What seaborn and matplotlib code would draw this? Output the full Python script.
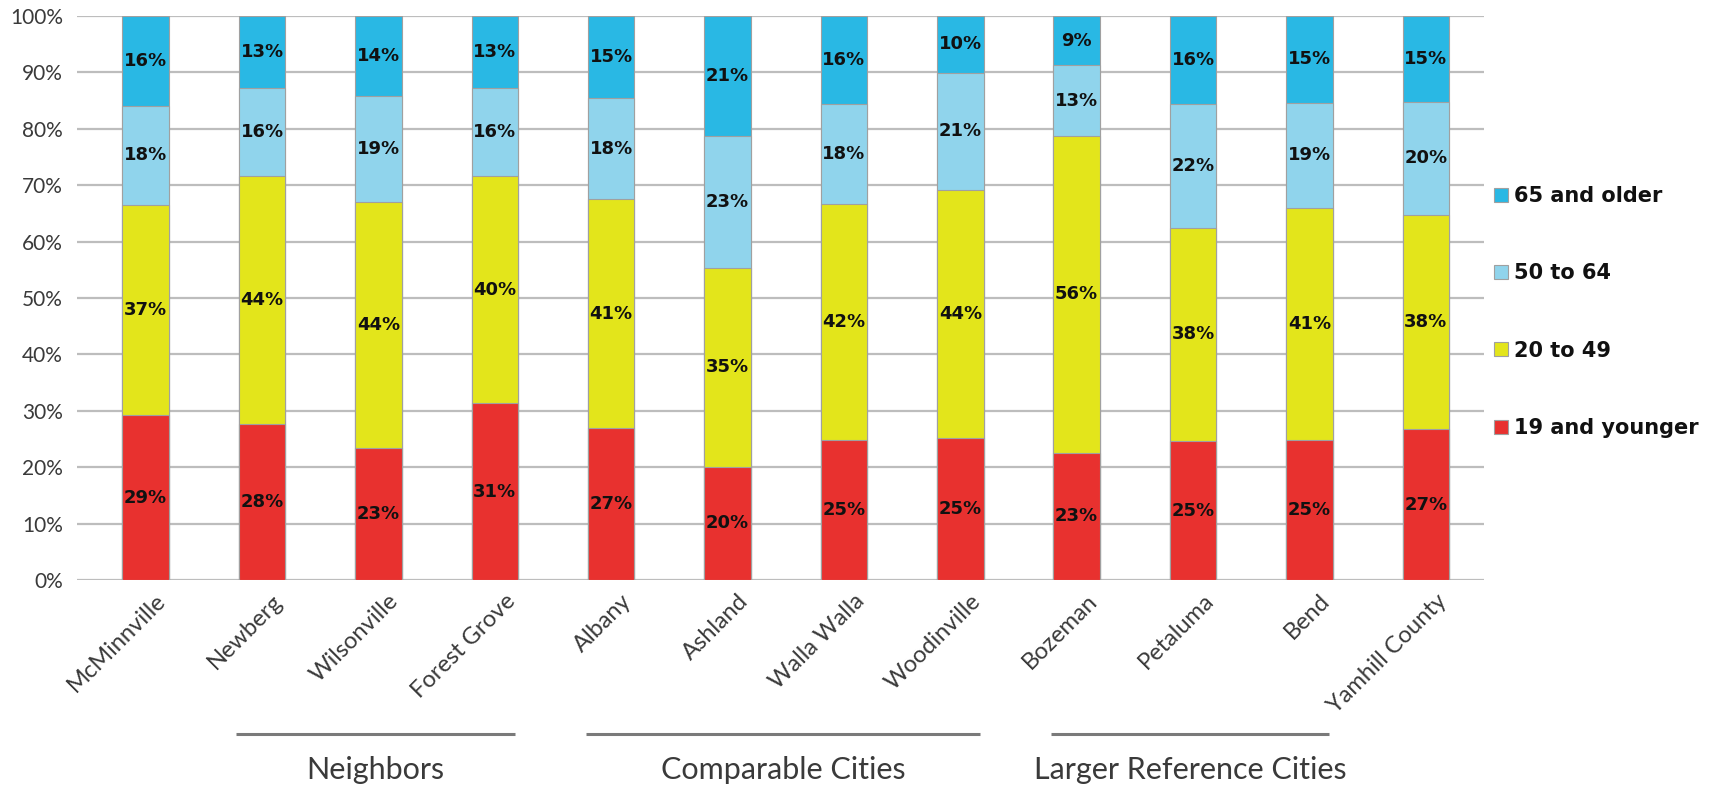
import matplotlib
matplotlib.use("Agg")
import matplotlib.pyplot as plt
import matplotlib.transforms as mtransforms
from matplotlib.patches import Patch
import seaborn as sns
import pandas as pd
import numpy as np

# ---------------- data ----------------
cities = ["McMinnville", "Newberg", "Wilsonville", "Forest Grove", "Albany", "Ashland",
          "Walla Walla", "Woodinville", "Bozeman", "Petaluma", "Bend", "Yamhill County"]
age_groups = ["19 and younger", "20 to 49", "50 to 64", "65 and older"]
under_20 = [29.2, 27.6, 23.4, 31.3, 26.9, 20.1, 24.8, 25.1, 22.6, 24.6, 24.8, 26.7]
age_20_49 = [37.3, 44.0, 43.7, 40.3, 40.6, 35.2, 41.9, 44.1, 56.1, 37.9, 41.2, 38.1]
age_50_64 = [17.6, 15.6, 18.8, 15.6, 17.9, 23.4, 17.7, 20.7, 12.6, 21.9, 18.6, 19.9]
age_65_up = [15.9, 12.8, 14.1, 12.8, 14.6, 21.3, 15.6, 10.1, 8.7, 15.6, 15.4, 15.3]
y_ticks = [0, 10, 20, 30, 40, 50, 60, 70, 80, 90, 100]
group_names = ["Neighbors", "Comparable Cities", "Larger Reference Cities"]
group_first = [1, 4, 8]
group_last = [3, 7, 10]

colors = {"19 and younger": "#E8312F", "20 to 49": "#E3E51B",
          "50 to 64": "#90D4EC", "65 and older": "#29B8E4"}

series = [under_20, age_20_49, age_50_64, age_65_up]
df = pd.DataFrame({"city": cities})
for name, vals in zip(age_groups, series):
    df[name] = vals
cum = df[age_groups].cumsum(axis=1)

# ---------------- figure ----------------
sns.set_theme(style="white")
plt.rcParams["font.family"] = ["Lato", "DejaVu Sans"]

fig = plt.figure(figsize=(17.15, 7.85), dpi=100)
ax = fig.add_axes([77 / 1715, 1 - 580 / 785, (1484 - 77) / 1715, (580 - 16) / 785])

bar_w = 0.40
# draw cumulative layers from the top of the stack down
for name in reversed(age_groups):
    sns.barplot(x=df["city"], y=cum[name], color=colors[name], width=bar_w,
                edgecolor="#A0A0A0", linewidth=0.8, saturation=1, ax=ax,
                order=cities, zorder=3)

# value labels
for i in range(len(cities)):
    base = 0.0
    for name in age_groups:
        v = df[name].iloc[i]
        ax.text(i, base + v / 2, f"{v:.0f}%", ha="center", va="center",
                fontsize=13, fontweight="bold", family="DejaVu Sans",
                color="#111111", zorder=5)
        base += v

ax.set_xlim(-0.59, 11.50)
ax.set_ylim(0, 100)
ax.set_yticks(y_ticks)
ax.set_yticklabels([f"{t}%" for t in y_ticks], fontsize=15, fontweight="normal",
                   color="#3A3A3A")
ax.yaxis.grid(True, color="#BDBDBD", linewidth=1.6, zorder=0)
ax.xaxis.grid(False)
ax.set_axisbelow(True)
for s in ax.spines.values():
    s.set_visible(False)
ax.tick_params(axis="y", length=0, pad=10)
ax.tick_params(axis="x", length=0, pad=4)
ax.set_xlabel("")
ax.set_ylabel("")

ax.set_xticks(range(len(cities)))
ax.set_xticklabels(cities, rotation=45, ha="right", va="center",
                   rotation_mode="anchor", fontsize=17, fontweight="normal",
                   color="#3A3A3A")
offset = mtransforms.ScaledTranslation(17 / 100, -12 / 100, fig.dpi_scale_trans)
for lbl in ax.get_xticklabels():
    lbl.set_transform(lbl.get_transform() + offset)

# group brackets
tr = ax.get_xaxis_transform()
for name, a, b in zip(group_names, group_first, group_last):
    ax.plot([a - 0.22, b + 0.17], [-0.273, -0.273], transform=tr, color="#7A7A7A",
            linewidth=2.2, clip_on=False, solid_capstyle="butt")
    ax.text((a - 0.22 + b + 0.17) / 2, -0.337, name, transform=tr, ha="center",
            va="center", fontsize=22, color="#3A3A3A")

# legend
handles = [Patch(facecolor=colors[n], edgecolor="#A0A0A0", linewidth=0.8, label=n)
           for n in reversed(age_groups)]
leg = fig.legend(handles=handles, loc="center left",
                 bbox_to_anchor=(1494 / 1715, 1 - 312 / 785),
                 frameon=False, prop={"size": 15, "weight": "bold", "family": "DejaVu Sans"},
                 labelspacing=2.75, handlelength=0.65, handleheight=0.65,
                 handletextpad=0.3, borderpad=0, borderaxespad=0)
for t in leg.get_texts():
    t.set_color("#111111")

fig.savefig("out.png", dpi=100)
